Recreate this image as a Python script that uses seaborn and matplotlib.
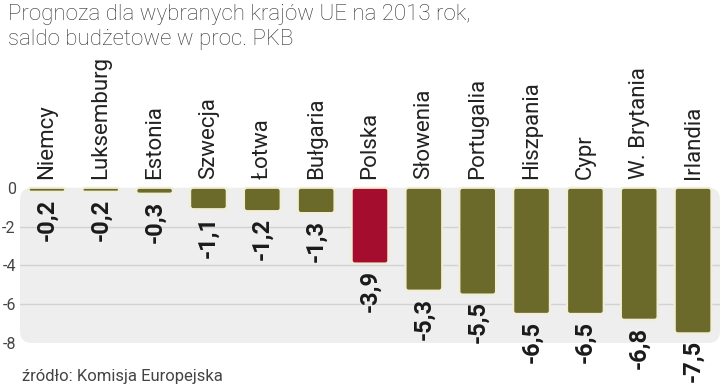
import matplotlib
matplotlib.use('Agg')
import matplotlib.pyplot as plt
import pandas as pd
import seaborn as sns
from matplotlib.patches import FancyBboxPatch

# dane: saldo budzetowe w proc. PKB (prognoza na 2013)
countries = ['Niemcy', 'Luksemburg', 'Estonia', 'Szwecja', 'Łotwa', 'Bułgaria', 'Polska',
             'Słowenia', 'Portugalia', 'Hiszpania', 'Cypr', 'W. Brytania', 'Irlandia']
saldo = [-0.2, -0.2, -0.3, -1.1, -1.2, -1.3, -3.9, -5.3, -5.5, -6.5, -6.5, -6.8, -7.5]
y_ticks = [0, -2, -4, -6, -8]
highlight = 'Polska'

title = 'Prognoza dla wybranych krajów UE na 2013 rok,\nsaldo budżetowe w proc. PKB'
source = 'źródło: Komisja Europejska'

sns.set_theme(style='white')
plt.rcParams['font.family'] = ['Roboto', 'DejaVu Sans']

df = pd.DataFrame({'kraj': countries, 'saldo': saldo})
colors = {k: ('#a50d2e' if k == highlight else '#6b6a2b') for k in countries}

W, H = 720, 386
fig = plt.figure(figsize=(W / 100, H / 100), dpi=100)
ax_left, ax_top, ax_bottom = 20, 182, 343
ax = fig.add_axes([ax_left / W, 1 - ax_bottom / H, 1 - ax_left / W, (ax_bottom - ax_top) / H])

sns.barplot(data=df, x='kraj', y='saldo', hue='kraj', palette=colors, legend=False,
            width=0.68, saturation=1, ax=ax, zorder=3)

ylim = (-8, 0.3)
ax.set_xlim(-0.5, len(countries) - 0.5)
ax.set_ylim(*ylim)

# slupki z zaokraglonymi rogami
px_x = (W - ax_left) / len(countries)
px_y = (ax_bottom - ax_top) / (ylim[1] - ylim[0])
bars = list(ax.patches)
for p in bars:
    x, y, w, h = p.get_x(), p.get_y(), p.get_width(), p.get_height()
    y0, hh = min(y, y + h), abs(h)
    r_px = min(3.0, hh * px_y / 2)
    fb = FancyBboxPatch((x, y0), w, hh,
                        boxstyle=f'round,pad=0,rounding_size={r_px / px_x}',
                        mutation_aspect=px_x / px_y,
                        facecolor=p.get_facecolor(), edgecolor='#f1eed6',
                        linewidth=1.5, zorder=3)
    p.remove()
    ax.add_patch(fb)

# tlo wykresu
ax.set_facecolor('none')
panel_top = (0 - ylim[0]) / (ylim[1] - ylim[0])
ax.add_patch(FancyBboxPatch((0, 0), 1.0, panel_top, transform=ax.transAxes,
                            boxstyle=f'round,pad=0,rounding_size={12 / (W - ax_left)}',
                            mutation_aspect=(W - ax_left) / (ax_bottom - ax_top),
                            facecolor='#eeeeee', edgecolor='none', zorder=0,
                            clip_on=False))
for t in y_ticks[1:-1]:
    ax.axhline(t, color='#d2d2d2', lw=1, zorder=1)

for i, (k, v) in enumerate(zip(countries, saldo)):
    ax.annotate(k, xy=(i, 0), xytext=(0, 6), textcoords='offset points', rotation=90,
                ha='center', va='bottom', fontsize=16, color='#222222', annotation_clip=False)
    ax.annotate(f'{v:.1f}'.replace('.', ','), xy=(i, v), xytext=(0, -5),
                textcoords='offset points', rotation=90, ha='center', va='top',
                fontsize=17, fontweight='bold', color='#1a1a1a', annotation_clip=False)

ax.set_yticks(y_ticks)
ax.set_yticklabels([str(t) for t in y_ticks])
ax.tick_params(axis='y', length=0, pad=3, labelsize=11.5, labelcolor='#444444')
ax.set_xticks([])
ax.set_xlabel('')
ax.set_ylabel('')
for s in ax.spines.values():
    s.set_visible(False)

fig.text(8 / W, 1 - 4 / H, title, fontsize=16, color='#333333', va='top', ha='left',
         linespacing=1.27, fontweight='light')
fig.text(22 / W, 1 - 381 / H, source, fontsize=12, color='#444444', va='baseline', ha='left')

fig.savefig('out.png', dpi=100)
